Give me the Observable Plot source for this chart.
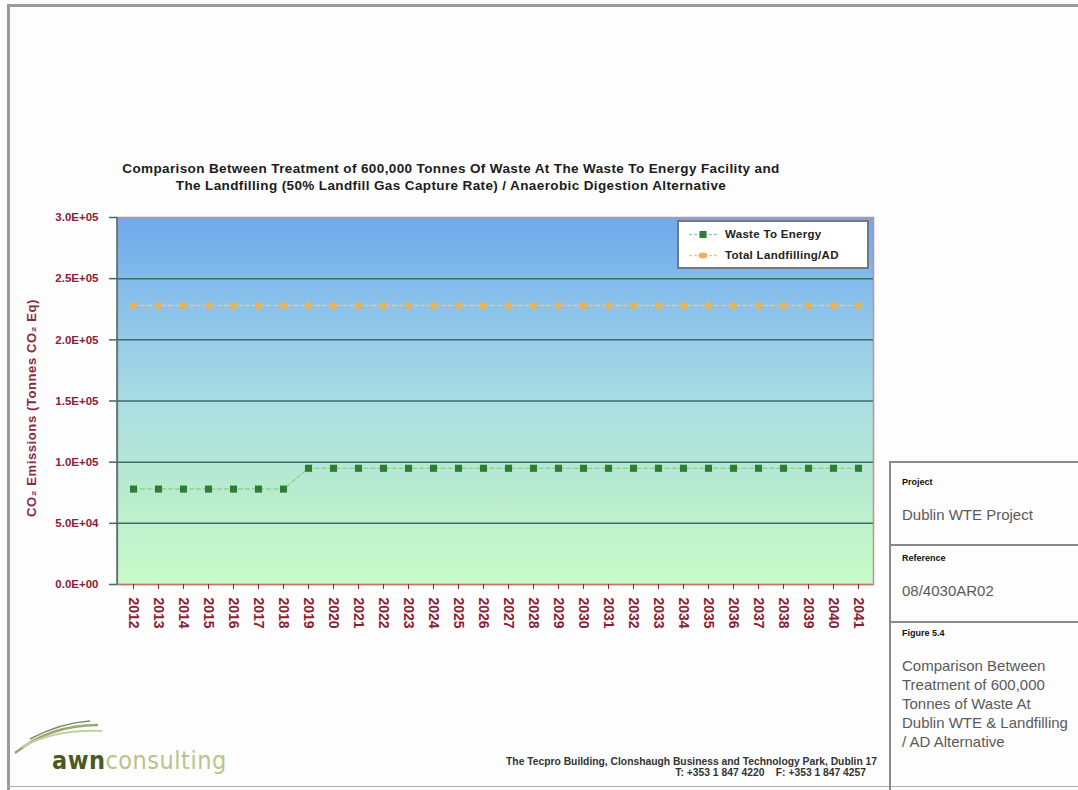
<!DOCTYPE html>
<html>
<head>
<meta charset="utf-8">
<script src="https://cdn.jsdelivr.net/npm/d3@7"></script>
<script src="https://cdn.jsdelivr.net/npm/@observablehq/plot@0.6"></script>
<style>
  html, body { margin:0; padding:0; background:#fff; }
  #page { position:relative; width:1078px; height:790px; overflow:hidden; font-family:"Liberation Sans", Arial, sans-serif; background:#fdfdfd; }
  .abs { position:absolute; }
  #chart { position:absolute; left:0; top:0; }
  .title { position:absolute; left:0; width:902px; text-align:center; font-weight:bold; font-size:13.5px; letter-spacing:0.38px; color:#1c1c1c; white-space:nowrap; }
  .ylab { position:absolute; left:31px; top:408px; transform:translate(-50%,-50%) rotate(-90deg); font-weight:bold; font-size:13px; letter-spacing:0.6px; color:#8b2a3a; white-space:nowrap; }
  #legend { position:absolute; left:677px; top:220px; width:192px; height:49px; background:#fff; border:2px solid #707888; box-sizing:border-box; font-size:11.5px; font-weight:bold; letter-spacing:0.3px; color:#222; }
  #legend .row { position:absolute; left:10px; display:flex; align-items:center; gap:8px; white-space:nowrap; }
  .panelh { position:absolute; left:902px; font-size:9px; font-weight:bold; color:#111; }
  .panelt { position:absolute; left:902px; font-size:15px; color:#5a5a5a; line-height:19px; white-space:nowrap; }
  .addr { position:absolute; right:201px; font-size:10.3px; font-weight:bold; color:#333; text-align:right; white-space:nowrap; }
</style>
</head>
<body>
<div id="page">
  <div id="chart"></div>
  <div class="title" style="top:161px;">Comparison Between Treatment of 600,000 Tonnes Of Waste At The Waste To Energy Facility and</div>
  <div class="title" style="top:178px;">The Landfilling (50% Landfill Gas Capture Rate) / Anaerobic Digestion Alternative</div>
  <div class="ylab">CO₂ Emissions (Tonnes CO₂ Eq)</div>
  <div id="legend">
    <div class="row" style="top:6px;"><svg width="28" height="9"><line x1="0" y1="4.5" x2="28" y2="4.5" stroke="#8fd48f" stroke-width="1.5" stroke-dasharray="3,2"/><rect x="10.5" y="1" width="7" height="7" fill="#2f7d32"/></svg><span>Waste To Energy</span></div>
    <div class="row" style="top:27px;"><svg width="28" height="9"><line x1="0" y1="4.5" x2="28" y2="4.5" stroke="#f3c77a" stroke-width="1.5" stroke-dasharray="3,2"/><ellipse cx="14" cy="4.5" rx="4.5" ry="3" fill="#eab25a"/></svg><span>Total Landfilling/AD</span></div>
  </div>
  <!-- page frame -->
  <div class="abs" style="left:7px; top:4px; width:1071px; height:3px; background:#9a9a9a;"></div>
  <div class="abs" style="left:7px; top:4px; width:3px; height:786px; background:#9a9a9a;"></div>
  <div class="abs" style="left:7px; top:786px; width:1071px; height:1px; background:#b0b0b0;"></div>
  <!-- right panel -->
  <div class="abs" style="left:889px; top:461px; width:2px; height:329px; background:#8a8a8a;"></div>
  <div class="abs" style="left:889px; top:461px; width:189px; height:2px; background:#8a8a8a;"></div>
  <div class="abs" style="left:889px; top:544px; width:189px; height:2px; background:#8a8a8a;"></div>
  <div class="abs" style="left:889px; top:621px; width:189px; height:2px; background:#8a8a8a;"></div>
  <div class="panelh" style="top:477px;">Project</div>
  <div class="panelt" style="top:505px;">Dublin WTE Project</div>
  <div class="panelh" style="top:553px;">Reference</div>
  <div class="panelt" style="top:581px;">08/4030AR02</div>
  <div class="panelh" style="top:628px;">Figure 5.4</div>
  <div class="panelt" style="top:656px;">Comparison Between<br>Treatment of 600,000<br>Tonnes of Waste At<br>Dublin WTE &amp; Landfilling<br>/ AD Alternative</div>
  <!-- logo -->
  <svg class="abs" style="left:10px; top:715px;" width="100" height="45">
    <path d="M5,38 Q40,10 88,10" stroke="#9aaa70" stroke-width="2.5" fill="none"/>
    <path d="M12,32 Q45,14 92,16" stroke="#c4cfa0" stroke-width="2" fill="none"/>
    <path d="M20,24 Q50,8 80,6" stroke="#7f8a6a" stroke-width="1.5" fill="none"/>
  </svg>
  <div class="abs" style="left:52px; top:746px; font-family:'DejaVu Sans Condensed','DejaVu Sans',sans-serif; font-size:25px; letter-spacing:0.5px; white-space:nowrap;"><span style="color:#4b5a22; font-weight:bold;">awn</span><span style="color:#b9c48a;">consulting</span></div>
  <div class="addr" style="top:756px;">The Tecpro Building, Clonshaugh Business and Technology Park, Dublin 17</div>
  <div class="addr" style="top:767px; right:212px;">T: +353 1 847 4220 &nbsp;&nbsp; F: +353 1 847 4257</div>
</div>
<script>
const years = ["2012","2013","2014","2015","2016","2017","2018","2019","2020","2021","2022","2023","2024","2025","2026","2027","2028","2029","2030","2031","2032","2033","2034","2035","2036","2037","2038","2039","2040","2041"];
const wasteToEnergy = [78000,78000,78000,78000,78000,78000,78000,95000,95000,95000,95000,95000,95000,95000,95000,95000,95000,95000,95000,95000,95000,95000,95000,95000,95000,95000,95000,95000,95000,95000];
const totalLandfillAD = [228000,228000,228000,228000,228000,228000,228000,228000,228000,228000,228000,228000,228000,228000,228000,228000,228000,228000,228000,228000,228000,228000,228000,228000,228000,228000,228000,228000,228000,228000];
const yTicks = [0, 50000, 100000, 150000, 200000, 250000, 300000];

const wte = years.map((y, i) => ({year: y, value: wasteToEnergy[i]}));
const lf = years.map((y, i) => ({year: y, value: totalLandfillAD[i]}));

const fmt = v => v.toExponential(1).toUpperCase().replace(/E([+-])(\d)$/, "E$10$2");

const defs = () => {
  const ns = "http://www.w3.org/2000/svg";
  const d = document.createElementNS(ns, "defs");
  d.innerHTML = `<linearGradient id="bg" x1="0" y1="0" x2="0" y2="1">
    <stop offset="0%" stop-color="#6ea9ec"/>
    <stop offset="25%" stop-color="#8cc3ea"/>
    <stop offset="50%" stop-color="#a9dde2"/>
    <stop offset="75%" stop-color="#b9eccf"/>
    <stop offset="100%" stop-color="#c9fbc8"/>
  </linearGradient>`;
  return d;
};
const leftLine = (index, scales, values, dims) => {
  const ns = "http://www.w3.org/2000/svg";
  const l = document.createElementNS(ns, "line");
  l.setAttribute("x1", dims.marginLeft); l.setAttribute("x2", dims.marginLeft);
  l.setAttribute("y1", dims.marginTop); l.setAttribute("y2", dims.height - dims.marginBottom);
  l.setAttribute("stroke", "#3d7070"); l.setAttribute("stroke-width", "1.5");
  return l;
};

const chart = Plot.plot({
  width: 1078, height: 660,
  marginLeft: 117, marginRight: 205, marginTop: 217, marginBottom: 76,
  style: {background: "transparent", fontFamily: "Liberation Sans, Arial, sans-serif"},
  x: {type: "point", domain: years, padding: 0.5, label: null},
  y: {domain: [0, 300000], label: null},
  marks: [
    defs,
    Plot.frame({fill: "url(#bg)", stroke: "#d08a8a", strokeWidth: 1.5}),
    Plot.ruleY(yTicks.filter(d => d > 0 && d < 300000), {stroke: "#3f6b6a", strokeWidth: 1.5}),
    leftLine,
    Plot.ruleY([0], {stroke: "#c87070", strokeWidth: 1.5}),
    Plot.axisY({ticks: yTicks, tickFormat: () => "", tickSize: 8, color: "#3f6b6a", strokeWidth: 1.5, label: null}),
    Plot.axisY({ticks: yTicks, tickFormat: fmt, tickSize: 0, tickPadding: 19, color: "#8b2233", fontWeight: "bold", fontSize: 11.5, label: null}),
    Plot.axisX({tickSize: 5, tickPadding: 8, tickRotate: 90, color: "#8b2233", fontWeight: "bold", fontSize: 14, label: null}),
    Plot.line(lf, {x: "year", y: "value", stroke: "#f3c77a", strokeWidth: 1.5, strokeDasharray: "4,3"}),
    Plot.dot(lf, {x: "year", y: "value", symbol: "circle", r: 3.6, fill: "#eab25a", stroke: "none"}),
    Plot.line(wte, {x: "year", y: "value", stroke: "#8fd48f", strokeWidth: 1.5, strokeDasharray: "4,3"}),
    Plot.dot(wte, {x: "year", y: "value", symbol: "square", r: 4, fill: "#2f7d32", stroke: "none"})
  ]
});
document.getElementById("chart").appendChild(chart);
</script>
</body>
</html>
